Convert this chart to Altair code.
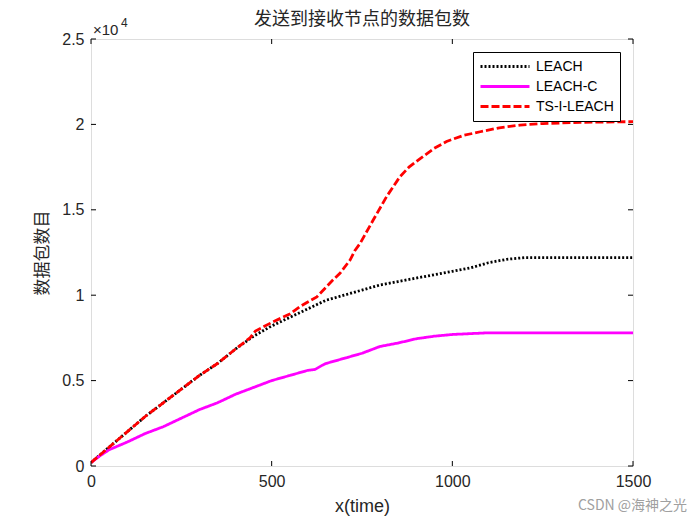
import altair as alt
import pandas as pd

# ---- data ----
leach_x = [0, 50, 100, 150, 200, 250, 300, 350, 400, 450, 500, 550, 600, 650, 700, 750, 800,
           850, 900, 950, 1000, 1050, 1100, 1150, 1200, 1250, 1300, 1350, 1400, 1450, 1500]
leach_y = [200, 1100, 2000, 2900, 3700, 4500, 5300, 6000, 6850, 7600, 8200, 8700, 9200, 9700,
           10000, 10300, 10600, 10800, 11000, 11200, 11400, 11600, 11900, 12100, 12200, 12200,
           12200, 12200, 12200, 12200, 12200]

leachc_x = [0, 25, 50, 100, 150, 200, 250, 300, 350, 400, 450, 500, 550, 600, 620, 640, 650,
            700, 750, 800, 850, 900, 950, 1000, 1050, 1100, 1150, 1200, 1300, 1400, 1500]
leachc_y = [200, 600, 950, 1400, 1900, 2300, 2800, 3300, 3700, 4200, 4600, 5000, 5300, 5600,
            5650, 5900, 6000, 6300, 6600, 7000, 7200, 7450, 7600, 7700, 7750, 7800, 7800, 7800,
            7800, 7800, 7800]

ts_x = [0, 50, 100, 150, 200, 250, 300, 350, 400, 440, 455, 500, 550, 578, 600, 625, 652, 670,
        689, 717, 730, 745, 781, 818, 855, 880, 911, 950, 984, 1030, 1077, 1130, 1187, 1250,
        1353, 1500]
ts_y = [200, 1100, 2000, 2900, 3700, 4500, 5300, 6000, 6850, 7500, 7900, 8400, 8900, 9330,
        9600, 9900, 10500, 10900, 11280, 12060, 12600, 13040, 14400, 15770, 16940, 17500,
        18000, 18600, 19000, 19350, 19570, 19800, 19960, 20050, 20120, 20160]

series_names = ["LEACH", "LEACH-C", "TS-I-LEACH"]
series_colors = ["#000000", "#ff00ff", "#ff0000"]
series_dash = [[2, 2], [1, 0], [8, 3]]

x_ticks = [0, 500, 1000, 1500]
y_ticks = [0, 5000, 10000, 15000, 20000, 25000]

rows = []
for name, xs, ys in [("LEACH", leach_x, leach_y), ("LEACH-C", leachc_x, leachc_y),
                     ("TS-I-LEACH", ts_x, ts_y)]:
    for xv, yv in zip(xs, ys):
        rows.append({"series": name, "x": xv, "y": yv})
df = pd.DataFrame(rows)

W, H = 542, 427
TICK_FONT = "Liberation Sans"
CJK_FONT = "Noto Sans CJK SC"
TXT = "#262626"

xscale = alt.Scale(domain=[0, 1500], nice=False, zero=False)
yscale = alt.Scale(domain=[0, 25000], nice=False, zero=False)

lines = alt.Chart(df).mark_line(strokeWidth=2.8, clip=True).encode(
    x=alt.X("x:Q", scale=xscale,
            axis=alt.Axis(values=x_ticks, ticks=False, grid=False, domain=False,
                          format="d", labelFlush=False,
                          labelFont=TICK_FONT, labelFontSize=16, labelColor=TXT,
                          labelPadding=7, title="x(time)", titleFont=TICK_FONT,
                          titleFontSize=18, titleFontWeight="normal", titleColor=TXT,
                          titlePadding=8)),
    y=alt.Y("y:Q", scale=yscale,
            axis=alt.Axis(values=y_ticks, ticks=False, grid=False, domain=False,
                          labelExpr="datum.value / 10000", labelFlush=False,
                          labelFont=TICK_FONT, labelFontSize=16, labelColor=TXT,
                          labelPadding=7, title="数据包数目", titleFont=CJK_FONT,
                          titleFontSize=17, titleFontWeight="normal", titleColor=TXT,
                          titlePadding=10)),
    color=alt.Color("series:N",
                    scale=alt.Scale(domain=series_names, range=series_colors),
                    sort=series_names,
                    legend=alt.Legend(title=None, orient="none", legendX=382, legendY=13,
                                      fillColor="white", strokeColor="black", padding=6,
                                      symbolType="stroke", symbolSize=2400,
                                      symbolStrokeWidth=2.8, labelFont=TICK_FONT,
                                      labelFontSize=14, labelColor="black",
                                      clipHeight=17, rowPadding=3, labelOffset=5)),
    strokeDash=alt.StrokeDash("series:N",
                              scale=alt.Scale(domain=series_names, range=series_dash),
                              sort=series_names, legend=None),
    order="x:Q",
)

xt = pd.DataFrame({"x": x_ticks})
yt = pd.DataFrame({"y": y_ticks})
tick_bottom = alt.Chart(xt).mark_rule(color="black", strokeWidth=1).encode(
    x=alt.X("x:Q", scale=xscale), y=alt.value(H), y2=alt.value(H - 5))
tick_top = alt.Chart(xt).mark_rule(color="black", strokeWidth=1).encode(
    x=alt.X("x:Q", scale=xscale), y=alt.value(0), y2=alt.value(5))
tick_left = alt.Chart(yt).mark_rule(color="black", strokeWidth=1).encode(
    y=alt.Y("y:Q", scale=yscale), x=alt.value(0), x2=alt.value(5))
tick_right = alt.Chart(yt).mark_rule(color="black", strokeWidth=1).encode(
    y=alt.Y("y:Q", scale=yscale), x=alt.value(W), x2=alt.value(W - 5))

one = pd.DataFrame({"t": [""]})
title_txt = alt.Chart(one).mark_text(text="发送到接收节点的数据包数", font=CJK_FONT, fontSize=18,
                                     color=TXT, align="center", baseline="middle").encode(
    x=alt.value(W / 2), y=alt.value(-19))
exp_base = alt.Chart(one).mark_text(text="×10", font=TICK_FONT, fontSize=15, color=TXT,
                                    align="left", baseline="alphabetic").encode(
    x=alt.value(2), y=alt.value(-4))
exp_pow = alt.Chart(one).mark_text(text="4", font=TICK_FONT, fontSize=12, color=TXT,
                                   align="left", baseline="alphabetic").encode(
    x=alt.value(30), y=alt.value(-12))
watermark = alt.Chart(one).mark_text(text="CSDN @海神之光", font=CJK_FONT, fontSize=14,
                                     color="#a0a0a0", align="left",
                                     baseline="middle").encode(
    x=alt.value(487), y=alt.value(467))

chart = alt.layer(lines, tick_bottom, tick_top, tick_left, tick_right,
                  title_txt, exp_base, exp_pow, watermark).properties(
    width=W, height=H,
    autosize=alt.AutoSizeParams(type="none"),
    padding={"left": 91, "top": 39, "right": 67, "bottom": 59},
).configure_view(stroke="black", strokeWidth=1).configure(background="white")

chart.save("out.html", embed_options={"renderer": "svg", "actions": False})
